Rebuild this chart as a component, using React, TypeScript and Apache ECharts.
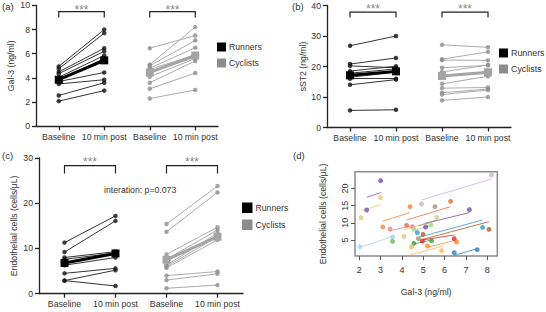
import React, { useEffect, useRef } from 'react';
import * as echarts from 'echarts';

// ---------- data ----------
const xCategories = ['Baseline', '10 min post', 'Baseline', '10 min post'];
const groupNames = ['Runners', 'Cyclists'];

// (a) Gal-3 (ng/ml)
const aRunBase = [4.95, 4.75, 4.5, 4.35, 4.05, 3.85, 3.7, 3.5, 2.55, 2.08];
const aRunPost = [8.0, 7.7, 6.45, 6.2, 5.85, 5.6, 4.45, 3.85, 3.6, 2.95];
const aRunMean = [3.85, 5.45];
const aCycBase = [6.45, 5.1, 5.0, 4.8, 4.7, 4.5, 4.1, 3.6, 3.1, 2.3];
const aCycPost = [7.5, 8.2, 7.1, 6.5, 5.9, 5.7, 5.6, 5.4, 4.4, 3.0];
const aCycMean = [4.45, 5.85];

// (b) sST2 (ng/ml)
const bRunBase = [26.8, 20.8, 20.2, 18.5, 17.8, 17.0, 16.5, 16.0, 14.0, 5.6];
const bRunPost = [30.0, 22.8, 19.6, 20.1, 19.2, 18.5, 18.1, 16.0, 15.7, 5.8];
const bRunMean = [17.1, 18.4];
const bCycBase = [27.1, 22.4, 22.1, 19.6, 18.2, 16.8, 14.3, 12.9, 11.4, 10.8, 8.9];
const bCycPost = [26.3, 24.8, 22.0, 20.4, 20.5, 17.9, 16.8, 13.1, 12.6, 12.3, 10.0];
const bCycMean = [16.9, 18.1];

// (c) Endothelial cells (cells/µL)
const cRunBase = [11.3, 9.2, 8.0, 7.6, 6.8, 6.3, 4.5, 2.9, 2.9];
const cRunPost = [17.2, 16.1, 9.3, 9.0, 8.8, 8.0, 5.6, 5.2, 1.7];
const cRunMean = [6.8, 8.9];
const cCycBase = [15.4, 13.7, 8.7, 7.6, 6.3, 6.0, 5.7, 4.0, 3.0, 1.2];
const cCycPost = [23.8, 22.4, 14.7, 14.1, 13.4, 12.6, 11.9, 4.9, 4.4, 1.9];
const cCycMean = [7.5, 12.6];

// significance brackets [low, high, starY]
const aBracket = [9.0, 9.47, 9.65];
const bBracket = [36.1, 37.8, 38.7];
const cBracket = [26.6, 28.3, 29.1];

// (d) Gal-3 vs endothelial cells
const dPalette = [
  '#cab2d6', '#7b52a6', '#e2ca7c', '#f2883a', '#ee6b45', '#f27f8c', '#dcc57a',
  '#7d4fa5', '#a3d686', '#a6cfe6', '#37a03a', '#3f93cc', '#b5592a', '#e4242a',
  '#f98f2c', '#fdb462', '#2b82b8', '#a89172', '#67b95a',
];
const dPointGal = [
  4.92, 8.2, 2.35, 3.0, 2.08, 3.0, 3.1, 4.38, 4.22, 6.28, 3.44, 4.49, 4.1, 5.63,
  5.11, 7.16, 4.56, 5.36, 2.03, 3.56, 4.56, 5.39, 4.72, 7.78, 4.99, 8.08, 4.96,
  6.45, 5.19, 6.56, 4.45, 5.86, 6.45, 7.53, 4.77, 5.55, 3.56,
];
const dPointEndo = [
  15.49, 23.95, 13.74, 22.29, 11.51, 17.34, 8.79, 14.71, 9.27, 16.27, 8.2, 8.88,
  6.06, 11.6, 8.79, 13.84, 8.1, 9.47, 3.05, 5.87, 4.02, 4.8, 7.13, 8.69, 6.65,
  8.1, 4.7, 5.38, 3.25, 4.41, 2.96, 1.89, 1.3, 2.18, 5.38, 14.71, 4.6,
];
const dPointColor = [
  0, 0, 1, 1, 2, 2, 3, 3, 4, 4, 5, 5, 6, 6, 7, 7, 8, 8, 9, 9, 10, 10, 11, 11, 12,
  12, 13, 13, 14, 14, 15, 15, 16, 16, 17, 17, 18,
];
const dSegGalStart = [4.92, 2.35, 2.08, 3.1, 4.22, 3.44, 4.1, 5.11, 4.56, 2.03, 4.56, 4.77, 4.99, 4.96, 5.19, 4.38, 6.45, 4.77];
const dSegEndoStart = [16.66, 17.43, 13.55, 10.53, 10.83, 7.72, 7.91, 9.86, 7.72, 2.86, 3.83, 5.77, 5.19, 5.0, 2.86, 0.63, 0.53, 9.08];
const dSegGalEnd = [8.2, 3.0, 3.0, 4.38, 6.28, 4.49, 5.63, 7.16, 5.36, 3.56, 5.39, 7.78, 8.08, 6.45, 6.56, 5.94, 7.53, 5.55];
const dSegEndoEnd = [22.78, 18.8, 15.2, 12.96, 14.71, 9.17, 10.83, 12.97, 9.27, 5.97, 5.0, 10.83, 10.34, 6.45, 5.0, 3.25, 2.47, 10.63];
const dSegColor = [0, 1, 2, 3, 4, 5, 6, 7, 8, 9, 10, 11, 12, 13, 14, 15, 16, 17];
const dXTicks = [2, 3, 4, 5, 6, 7, 8];
const dYTicks = [5, 10, 15, 20];

// ---------- styling ----------
const FONT = '"Liberation Sans", Arial, sans-serif';
const AXIS_COLOR = '#222';
const TEXT_COLOR = '#333';
const RUN_COLOR = '#111';
const RUN_LINE = '#333';
const CYC_POINT = '#8f8f8f';
const CYC_LINE = '#ababab';
const CYC_MEAN = '#a4a4a4';
const catPos = [0.5, 1.5, 2.5, 3.5];

function pairLines(base: number[], post: number[], x0: number) {
  return base.map((b, i) => ({ coords: [[x0, b], [x0 + 1, post[i]]] }));
}
function pairPoints(base: number[], post: number[], x0: number) {
  return base.map((b) => [x0, b]).concat(post.map((p) => [x0 + 1, p]));
}

function panelSeries(
  g: number,
  runBase: number[], runPost: number[], runMean: number[],
  cycBase: number[], cycPost: number[], cycMean: number[],
  bracket: number[]
): any[] {
  const ax = { xAxisIndex: g, yAxisIndex: g };
  return [
    {
      type: 'lines', coordinateSystem: 'cartesian2d', ...ax, z: 2,
      data: pairLines(runBase, runPost, 0.5),
      lineStyle: { color: RUN_LINE, width: 1, opacity: 1, curveness: 0 },
    },
    {
      type: 'lines', coordinateSystem: 'cartesian2d', ...ax, z: 2,
      data: pairLines(cycBase, cycPost, 2.5),
      lineStyle: { color: CYC_LINE, width: 1, opacity: 1, curveness: 0 },
    },
    {
      type: 'scatter', ...ax, z: 3, symbolSize: 4.5,
      data: pairPoints(runBase, runPost, 0.5),
      itemStyle: { color: RUN_COLOR },
    },
    {
      type: 'scatter', ...ax, z: 3, symbolSize: 4.5,
      data: pairPoints(cycBase, cycPost, 2.5),
      itemStyle: { color: CYC_POINT },
    },
    {
      name: groupNames[0], type: 'line', ...ax, z: 5,
      data: [[0.5, runMean[0]], [1.5, runMean[1]]],
      symbol: 'rect', symbolSize: 8,
      itemStyle: { color: '#000' },
      lineStyle: { color: '#000', width: 3 },
    },
    {
      name: groupNames[1], type: 'line', ...ax, z: 5,
      data: [[2.5, cycMean[0]], [3.5, cycMean[1]]],
      symbol: 'rect', symbolSize: 8,
      itemStyle: { color: CYC_MEAN },
      lineStyle: { color: CYC_MEAN, width: 3 },
    },
    {
      type: 'lines', coordinateSystem: 'cartesian2d', ...ax, z: 4, polyline: true,
      data: [
        { coords: [[0.5, bracket[0]], [0.5, bracket[1]], [1.5, bracket[1]], [1.5, bracket[0]]] },
        { coords: [[2.5, bracket[0]], [2.5, bracket[1]], [3.5, bracket[1]], [3.5, bracket[0]]] },
      ],
      lineStyle: { color: AXIS_COLOR, width: 1.2, opacity: 1 },
    },
    {
      type: 'scatter', ...ax, z: 4, symbolSize: 1,
      itemStyle: { color: 'rgba(0,0,0,0)' },
      data: [[1, bracket[2]], [3, bracket[2]]],
      label: {
        show: true, position: 'inside', formatter: '***',
        fontSize: 12, color: '#666', fontFamily: FONT,
      },
    },
  ];
}

function catXAxis(g: number) {
  return {
    gridIndex: g, type: 'value', min: 0, max: 4,
    axisLine: { show: true, lineStyle: { color: AXIS_COLOR, width: 1.3 } },
    axisTick: { show: true, customValues: catPos, length: 4, lineStyle: { color: AXIS_COLOR, width: 1.3 } },
    axisLabel: {
      customValues: catPos, fontSize: 8.7, color: TEXT_COLOR, margin: 6, fontFamily: FONT,
      formatter: (v: number) => xCategories[Math.round(v - 0.5)],
    },
    splitLine: { show: false },
  };
}

function valYAxis(g: number, max: number, interval: number, name: string, gap: number) {
  return {
    gridIndex: g, type: 'value', min: 0, max, interval,
    axisLine: { show: true, lineStyle: { color: AXIS_COLOR, width: 1.3 } },
    axisTick: { show: true, length: 4, lineStyle: { color: AXIS_COLOR, width: 1.3 } },
    axisLabel: { fontSize: 8.7, color: TEXT_COLOR, margin: 6, fontFamily: FONT },
    splitLine: { show: false },
    name, nameLocation: 'middle', nameGap: gap,
    nameTextStyle: { fontSize: 8.7, color: TEXT_COLOR, fontFamily: FONT },
  };
}

function legendFor(left: number, top: number, size: number, fontSize: number, gap: number) {
  return {
    left, top, orient: 'vertical', padding: 0, icon: 'rect',
    itemWidth: size, itemHeight: size, itemGap: gap, selectedMode: false,
    textStyle: { fontSize, color: TEXT_COLOR, fontFamily: FONT, padding: [0, 0, 0, -2] },
    data: [
      { name: groupNames[0], itemStyle: { color: '#000' } },
      { name: groupNames[1], itemStyle: { color: '#8c8c8c' } },
    ],
  };
}

export default function App() {
  const ref = useRef<HTMLDivElement>(null);
  useEffect(() => {
    document.body.style.margin = '0';
    if (!ref.current) return;
    const chart = echarts.init(ref.current, undefined, { renderer: 'svg' });

    const dLines = dSegGalStart.map((x, i) => ({
      coords: [[x, dSegEndoStart[i]], [dSegGalEnd[i], dSegEndoEnd[i]]],
      lineStyle: { color: dPalette[dSegColor[i]] },
    }));
    const dPoints = dPointGal.map((x, i) => ({
      value: [x, dPointEndo[i]],
      itemStyle: { color: dPalette[dPointColor[i]] },
    }));

    const option: any = {
      animation: false,
      textStyle: { fontFamily: FONT },
      grid: [
        { left: 36, top: 5.3, width: 182, height: 121 },
        { left: 327, top: 5.5, width: 184, height: 122 },
        { left: 39, top: 158, width: 204, height: 135.7 },
        {
          left: 355, top: 171.7, width: 142.3, height: 84.3,
          show: true, borderColor: '#8a8a8a', borderWidth: 1.5, backgroundColor: 'transparent',
        },
      ],
      legend: [
        legendFor(217, 42.5, 9, 8.7, 7),
        legendFor(499, 48.5, 9, 8.9, 7),
        legendFor(242, 202.5, 10.5, 8.7, 6.5),
      ],
      xAxis: [
        catXAxis(0),
        catXAxis(1),
        catXAxis(2),
        {
          gridIndex: 3, type: 'value', min: 1.8, max: 8.47,
          axisLine: { show: false },
          axisTick: { show: true, customValues: dXTicks, length: 4, lineStyle: { color: '#555' } },
          axisLabel: { customValues: dXTicks, fontSize: 9, color: TEXT_COLOR, margin: 9, fontFamily: FONT },
          splitLine: { show: false },
          name: 'Gal-3 (ng/ml)', nameLocation: 'middle', nameGap: 31,
          nameTextStyle: { fontSize: 8.7, color: TEXT_COLOR, fontFamily: FONT },
        },
      ],
      yAxis: [
        valYAxis(0, 10, 2, 'Gal-3 (ng/ml)', 21),
        valYAxis(1, 40, 10, 'sST2 (ng/ml)', 20),
        valYAxis(2, 30, 10, 'Endothelial cells (cells/μL)', 20.5),
        {
          gridIndex: 3, type: 'value', min: 0.33, max: 24.9,
          axisLine: { show: false },
          axisTick: { show: true, customValues: dYTicks, length: 4, lineStyle: { color: '#555' } },
          axisLabel: { customValues: dYTicks, fontSize: 9, color: TEXT_COLOR, margin: 6, rotate: 90, fontFamily: FONT },
          splitLine: { show: false },
          name: 'Endothelial cells (cells/μL)', nameLocation: 'middle', nameGap: 28,
          nameTextStyle: { fontSize: 8.7, color: TEXT_COLOR, fontFamily: FONT },
        },
      ],
      graphic: [
        { type: 'text', left: 2, top: 1.5, style: { text: '(a)', fill: TEXT_COLOR, font: `9.5px ${FONT}` } },
        { type: 'text', left: 292, top: 1.5, style: { text: '(b)', fill: TEXT_COLOR, font: `9.5px ${FONT}` } },
        { type: 'text', left: 2, top: 150, style: { text: '(c)', fill: TEXT_COLOR, font: `9.5px ${FONT}` } },
        { type: 'text', left: 293, top: 150, style: { text: '(d)', fill: TEXT_COLOR, font: `9.5px ${FONT}` } },
        { type: 'text', left: 104, top: 185.5, style: { text: 'interation: p=0.073', fill: TEXT_COLOR, font: `8.7px ${FONT}` } },
      ],
      series: [
        ...panelSeries(0, aRunBase, aRunPost, aRunMean, aCycBase, aCycPost, aCycMean, aBracket),
        ...panelSeries(1, bRunBase, bRunPost, bRunMean, bCycBase, bCycPost, bCycMean, bBracket),
        ...panelSeries(2, cRunBase, cRunPost, cRunMean, cCycBase, cCycPost, cCycMean, cBracket),
        {
          type: 'lines', coordinateSystem: 'cartesian2d', xAxisIndex: 3, yAxisIndex: 3, z: 2,
          data: dLines,
          lineStyle: { width: 1, opacity: 0.8, curveness: 0 },
        },
        {
          type: 'scatter', xAxisIndex: 3, yAxisIndex: 3, z: 3, symbolSize: 5,
          data: dPoints,
        },
      ],
    };
    chart.setOption(option);
    return () => chart.dispose();
  }, []);
  return <div ref={ref} style={{ width: 546, height: 312 }} />;
}
